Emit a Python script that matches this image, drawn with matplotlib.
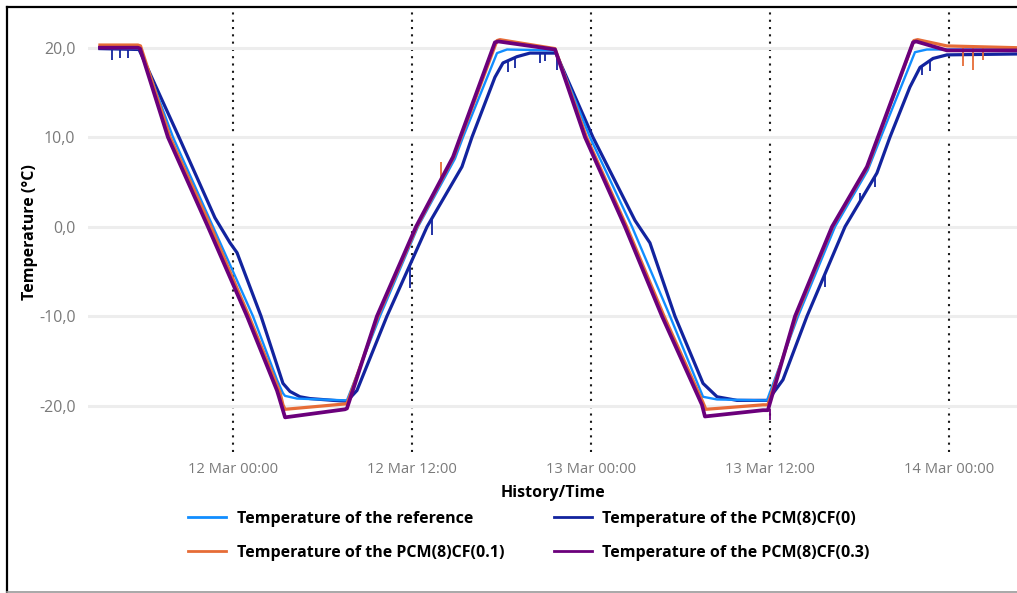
import matplotlib
matplotlib.use("Agg")
import matplotlib.pyplot as plt
import matplotlib.dates as mdates
from matplotlib.lines import Line2D
from matplotlib.ticker import FuncFormatter, FixedLocator
import pandas as pd

# Time axis origin: values below are hours relative to 12 Mar 00:00
ORIGIN = pd.Timestamp("2024-03-12 00:00")

# Temperature of the reference
ref_h = [-8.92, -6.23, -4.02, -1.34, 1.34, 2.95, 3.35, 3.49, 4.29, 7.51, 7.64, 9.85, 12.40,
         14.88, 15.42, 17.70, 18.37, 21.59, 23.93, 26.75, 29.30, 31.51, 32.45, 35.53, 35.80,
         37.88, 40.36, 42.55, 43.43, 45.72, 46.52, 52.56]
ref_t = [20.0, 19.9, 10.0, 0.0, -10.0, -17.1, -18.6, -18.9, -19.2, -19.4, -19.4, -10.0, 0.0,
         7.6, 10.0, 19.4, 19.8, 19.7, 10.0, 0.0, -10.0, -19.0, -19.3, -19.4, -19.4,
         -10.0, 0.0, 6.3, 10.0, 19.5, 19.8, 19.8]

# Temperature of the PCM(8)CF(0)
cf0_h = [-8.92, -6.3, -3.62, -1.21, -0.20, 0.27, 1.88, 3.35, 3.82, 4.49, 5.16, 6.70, 7.64,
         8.31, 10.32, 13.01, 15.35, 16.02, 17.56, 18.10, 19.04, 19.91, 21.65, 24.13, 26.95,
         27.95, 29.63, 31.51, 32.45, 33.79, 35.53, 35.86, 36.87, 38.48, 41.03, 43.17, 44.04,
         45.38, 46.06, 46.93, 47.86, 52.56]
cf0_t = [19.9, 19.8, 10.0, 1.0, -1.8, -2.9, -10.0, -17.5, -18.4, -19.0, -19.2, -19.4, -19.5,
         -18.3, -10.0, 0.0, 6.7, 10.0, 16.7, 18.3, 19.0, 19.4, 19.4, 10.0, 0.7,
         -1.8, -10.0, -17.5, -19.0, -19.4, -19.4, -19.4, -17.1, -10.0, 0.0, 6.0, 10.0,
         15.6, 17.8, 18.8, 19.2, 19.3]
cf0_spike_h = [-8.11, -7.58, -7.04, 11.87, 13.34, 18.44, 18.90, 20.58, 20.92, 21.72,
               39.69, 42.03, 43.04, 46.19, 46.73]
cf0_spike_hi = [19.9, 19.9, 19.9, -4.2, 1.1, 18.6, 18.9, 19.4, 19.4, 19.3,
                -5.3, 3.8, 5.8, 18.0, 18.6]
cf0_spike_lo = [18.6, 18.9, 18.8, -6.8, -0.9, 17.3, 17.7, 18.3, 18.5, 17.5,
                -6.7, 2.6, 4.4, 17.0, 17.4]

# Temperature of the PCM(8)CF(0.1)
cf01_h = [-8.92, -6.37, -6.2, -4.22, -1.48, 1.07, 3.15, 3.35, 3.49, 7.51, 7.64, 9.72, 12.33,
          14.8, 17.7, 17.9, 21.59, 23.7, 26.4, 28.9, 31.5, 31.7, 35.53, 35.86, 37.75, 40.2,
          42.55, 45.65, 45.9, 47.86, 52.56]
cf01_t = [20.3, 20.3, 20.2, 10.0, 0.0, -10.0, -18.5, -19.9, -20.4, -19.8, -19.8, -10.0, 0.0,
          7.8, 20.8, 20.9, 19.9, 10.0, 0.0, -10.0, -19.6, -20.4, -19.9, -19.9, -10.0, 0.0,
          6.7, 20.8, 20.9, 20.2, 20.0]
cf01_spike_h = [13.94, 48.94, 49.61, 50.28]
cf01_spike_hi = [7.2, 20.0, 20.0, 20.0]
cf01_spike_lo = [5.4, 18.0, 17.5, 18.6]

# Temperature of the PCM(8)CF(0.3)
cf03_h = [-8.92, -6.37, -6.23, -4.36, -1.68, 0.94, 2.95, 3.08, 3.49, 7.51, 7.64, 9.65, 12.27,
          14.75, 17.56, 17.8, 21.59, 23.60, 26.28, 28.76, 31.44, 31.64, 35.53, 35.86, 37.68,
          40.16, 42.50, 45.59, 45.8, 47.86, 52.56]
cf03_t = [20.0, 20.0, 19.9, 10.0, 0.0, -10.0, -18.3, -19.0, -21.3, -20.4, -20.3, -10.0, 0.0,
          7.8, 20.6, 20.7, 19.8, 10.0, 0.0, -10.0, -19.9, -21.2, -20.5, -20.5, -10.0,
          0.0, 6.7, 20.6, 20.7, 19.7, 19.7]
cf03_spike_h = [36.0]
cf03_spike_hi = [-20.4]
cf03_spike_lo = [-21.6]

y_ticks = [-20, -10, 0, 10, 20]
x_range_h = [-9.72, 52.56]

series_labels = ["Temperature of the reference", "Temperature of the PCM(8)CF(0)",
                 "Temperature of the PCM(8)CF(0.1)", "Temperature of the PCM(8)CF(0.3)"]
colors = {"ref": "#118DFF", "cf0": "#12239E", "cf01": "#E66C37", "cf03": "#6B007B"}


def to_time(hours):
    return ORIGIN + pd.to_timedelta(pd.Series(hours, dtype=float), unit="h")


plt.rcParams["font.family"] = ["Open Sans", "DejaVu Sans"]

W, H = 1017, 593
fig = plt.figure(figsize=(W / 100, H / 100), dpi=100)
ax = fig.add_axes([88 / W, 1 - 452 / H, 1 - 88 / W, 440 / H])

ax.plot(to_time(cf0_h), cf0_t, color=colors["cf0"], lw=2.3, zorder=3, solid_joinstyle="round")
ax.vlines(to_time(cf0_spike_h), cf0_spike_lo, cf0_spike_hi, color=colors["cf0"], lw=1.3, zorder=3)
ax.plot(to_time(ref_h), ref_t, color=colors["ref"], lw=1.7, zorder=4, solid_joinstyle="round")
ax.plot(to_time(cf01_h), cf01_t, color=colors["cf01"], lw=2.3, zorder=5, solid_joinstyle="round")
ax.vlines(to_time(cf01_spike_h), cf01_spike_lo, cf01_spike_hi, color=colors["cf01"], lw=1.3, zorder=5)
ax.plot(to_time(cf03_h), cf03_t, color=colors["cf03"], lw=2.7, zorder=6, solid_joinstyle="round")
ax.vlines(to_time(cf03_spike_h), cf03_spike_lo, cf03_spike_hi, color=colors["cf03"], lw=1.3, zorder=6)

xr = to_time(x_range_h)
ax.set_xlim(xr.iloc[0], xr.iloc[1])
ax.set_ylim(-25.17, 23.99)

ax.xaxis.set_major_locator(mdates.HourLocator(byhour=[0, 12]))
ax.xaxis.set_major_formatter(mdates.DateFormatter("%d %b %H:%M"))
ax.yaxis.set_major_locator(FixedLocator(y_ticks))
ax.yaxis.set_major_formatter(FuncFormatter(lambda v, p: f"{v:.1f}".replace(".", ",")))

ax.grid(axis="y", color="#EDEDED", lw=2.2, zorder=0)
ax.grid(axis="x", color="#1a1a1a", lw=1.5, linestyle=(0, (1, 2.5)), zorder=1)
ax.set_axisbelow(True)
for s in ax.spines.values():
    s.set_visible(False)

ax.tick_params(axis="x", length=0, pad=7, labelsize=10.6, labelcolor="#7a7a7a")
ax.tick_params(axis="y", length=0, pad=9, labelsize=11.5, labelcolor="#7a7a7a")

ax.set_xlabel("History/Time", fontsize=11.5, fontweight="bold", color="black", labelpad=6)
ax.set_ylabel("Temperature (°C)", fontsize=11.5, fontweight="bold", color="black")
ax.yaxis.set_label_coords((38 - 88) / (W - 88), 0.5)

handles = [Line2D([], [], color=colors["ref"], lw=2),
           Line2D([], [], color=colors["cf01"], lw=2),
           Line2D([], [], color=colors["cf0"], lw=2),
           Line2D([], [], color=colors["cf03"], lw=2)]
labels = [series_labels[0], series_labels[2], series_labels[1], series_labels[3]]
fig.legend(handles, labels, ncol=2, loc="upper left", bbox_to_anchor=(188 / W, 1 - 511 / H),
           frameon=False, borderpad=0, borderaxespad=0, handlelength=2.4, handletextpad=0.65,
           columnspacing=3.1, labelspacing=1.1, prop={"weight": "bold", "size": 11.5})

# frame around the figure
fig.add_artist(Line2D([7 / W, 7 / W], [0, 1 - 7 / H], color="black", lw=1.6, transform=fig.transFigure))
fig.add_artist(Line2D([7 / W, 1], [1 - 7 / H, 1 - 7 / H], color="black", lw=1.6, transform=fig.transFigure))
fig.add_artist(Line2D([7 / W, 1], [1 - 591.5 / H, 1 - 591.5 / H], color="#9a9a9a", lw=1.2,
                      transform=fig.transFigure))

fig.savefig("out.png", dpi=100)
